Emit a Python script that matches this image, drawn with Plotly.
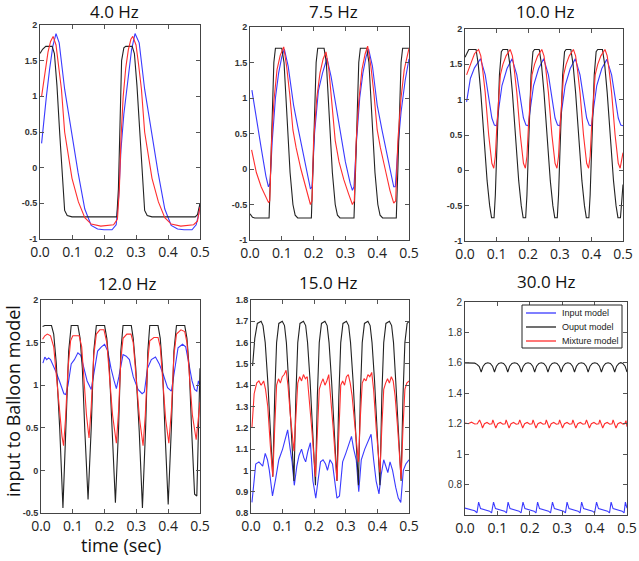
import plotly.graph_objects as go

W, H = 639, 561

# ---------------- 4.0 Hz ----------------
t_in_4 = [0.005, 0.01, 0.02, 0.03, 0.04, 0.05, 0.06, 0.077, 0.098, 0.119, 0.14, 0.16, 0.18, 0.2, 0.225, 0.238,
          0.246, 0.253, 0.262, 0.274, 0.286, 0.297, 0.31, 0.327, 0.348, 0.369, 0.39, 0.41, 0.43, 0.45, 0.475,
          0.488, 0.496, 0.5]
in_4 = [0.34, 0.6, 1.0, 1.38, 1.7, 1.88, 1.75, 1.1, 0.5, -0.07, -0.58, -0.81, -0.86, -0.87, -0.87, -0.8,
        -0.4, 0.25, 0.75, 1.2, 1.65, 1.88, 1.75, 1.1, 0.5, -0.07, -0.58, -0.81, -0.86, -0.87, -0.87,
        -0.8, -0.65, -0.5]
t_out_4 = [0.0, 0.008, 0.018, 0.038, 0.045, 0.053, 0.062, 0.07, 0.077, 0.085, 0.1, 0.24, 0.245, 0.25, 0.255,
           0.262, 0.268, 0.288, 0.295, 0.303, 0.312, 0.32, 0.327, 0.335, 0.35, 0.485, 0.492, 0.5]
out_4 = [1.6, 1.66, 1.7, 1.7, 1.6, 1.15, 0.45, -0.15, -0.6, -0.67, -0.69, -0.69, -0.3, 0.6, 1.5,
         1.68, 1.7, 1.7, 1.6, 1.15, 0.45, -0.15, -0.6, -0.67, -0.69, -0.69, -0.66, -0.5]
t_mix_4 = [0.005, 0.015, 0.025, 0.033, 0.041, 0.05, 0.058, 0.067, 0.077, 0.088, 0.1, 0.12, 0.14, 0.16, 0.19,
           0.23, 0.242, 0.248, 0.253, 0.26, 0.268, 0.276, 0.284, 0.29, 0.3, 0.308, 0.317, 0.327, 0.338, 0.35,
           0.37, 0.39, 0.41, 0.44, 0.48, 0.492, 0.5]
mix_4 = [1.0, 1.35, 1.62, 1.77, 1.84, 1.72, 1.45, 1.1, 0.5, 0.17, -0.15, -0.48, -0.7, -0.79, -0.82,
         -0.8, -0.72, -0.3, 0.4, 1.0, 1.4, 1.65, 1.8, 1.84, 1.72, 1.45, 1.1, 0.5, 0.17, -0.15,
         -0.48, -0.7, -0.79, -0.82, -0.8, -0.75, -0.55]

# ---------------- 7.5 Hz ----------------
t_in_75 = [0.006, 0.02, 0.035, 0.05, 0.058, 0.063, 0.07, 0.08, 0.09, 0.1, 0.108, 0.12, 0.137, 0.15, 0.164,
           0.18, 0.19, 0.195, 0.203, 0.215, 0.228, 0.242, 0.255, 0.27, 0.285, 0.3, 0.315, 0.322, 0.327,
           0.335, 0.345, 0.355, 0.365, 0.373, 0.385, 0.4, 0.415, 0.43, 0.445, 0.452, 0.457, 0.465, 0.475,
           0.488, 0.5]
in_75 = [1.11, 0.7, 0.3, -0.1, -0.25, -0.2, 0.4, 1.0, 1.35, 1.58, 1.69, 1.45, 0.9, 0.6, 0.29,
         -0.1, -0.28, -0.25, 0.5, 1.1, 1.35, 1.56, 1.3, 0.9, 0.5, 0.1, -0.2, -0.3, -0.25,
         0.4, 1.0, 1.35, 1.58, 1.69, 1.45, 0.9, 0.55, 0.2, -0.1, -0.25, -0.25, 0.3, 0.8,
         1.25, 1.55]
t_out_75 = [0.0, 0.008, 0.015,
            0.06, 0.065, 0.07, 0.075, 0.08, 0.1, 0.107, 0.116, 0.126, 0.135, 0.142, 0.15,
            0.193, 0.198, 0.203, 0.208, 0.213, 0.233, 0.24, 0.249, 0.259, 0.268, 0.275, 0.283,
            0.327, 0.332, 0.337, 0.342, 0.347, 0.367, 0.374, 0.383, 0.393, 0.402, 0.409, 0.417,
            0.46, 0.465, 0.47, 0.475, 0.48, 0.5]
out_75 = [-0.63, -0.68, -0.69,
          -0.69, 0.0, 0.95, 1.5, 1.7, 1.7, 1.5, 0.8, -0.05, -0.5, -0.65, -0.69,
          -0.69, 0.0, 0.95, 1.5, 1.7, 1.7, 1.5, 0.8, -0.05, -0.5, -0.65, -0.69,
          -0.69, 0.0, 0.95, 1.5, 1.7, 1.7, 1.5, 0.8, -0.05, -0.5, -0.65, -0.69,
          -0.69, 0.0, 0.95, 1.5, 1.7, 1.7]
t_mix_75 = [0.005, 0.02, 0.035, 0.05, 0.058, 0.062, 0.068, 0.075, 0.085, 0.095, 0.106, 0.115, 0.125, 0.135,
            0.145, 0.16, 0.175, 0.19, 0.195, 0.2, 0.21, 0.22, 0.23, 0.239, 0.248, 0.258, 0.268, 0.28, 0.295,
            0.31, 0.322, 0.328, 0.334, 0.342, 0.352, 0.362, 0.37, 0.38, 0.39, 0.4, 0.41, 0.425, 0.44, 0.452,
            0.458, 0.465, 0.475, 0.485, 0.495, 0.5]
mix_75 = [0.27, -0.05, -0.25, -0.4, -0.47, -0.45, 0.4, 0.95, 1.4, 1.6, 1.72, 1.45, 1.05, 0.55,
          0.3, 0.0, -0.25, -0.5, -0.45, 0.4, 1.0, 1.35, 1.55, 1.65, 1.4, 0.9, 0.4, 0.1, -0.15,
          -0.35, -0.5, -0.45, 0.4, 0.95, 1.4, 1.62, 1.73, 1.45, 1.05, 0.55, 0.3, 0.0, -0.3, -0.48,
          -0.45, 0.4, 1.0, 1.4, 1.62, 1.7]

# ---------------- 10.0 Hz ----------------
t_in_10 = [0.005, 0.017, 0.03, 0.049, 0.064, 0.075, 0.085, 0.093, 0.1,
           0.107, 0.117, 0.133, 0.149, 0.164, 0.175, 0.185, 0.193, 0.2,
           0.207, 0.217, 0.233, 0.249, 0.264, 0.275, 0.285, 0.293, 0.3,
           0.307, 0.317, 0.333, 0.349, 0.364, 0.375, 0.385, 0.393, 0.4,
           0.407, 0.417, 0.433, 0.449, 0.464, 0.475, 0.485, 0.493, 0.5]
in_10 = [0.97, 1.3, 1.45, 1.58, 1.35, 1.02, 0.74, 0.64, 0.63,
         0.88, 1.2, 1.44, 1.58, 1.35, 1.02, 0.74, 0.64, 0.63,
         0.88, 1.2, 1.44, 1.58, 1.35, 1.02, 0.74, 0.64, 0.63,
         0.88, 1.2, 1.44, 1.58, 1.35, 1.02, 0.74, 0.64, 0.63,
         0.88, 1.2, 1.44, 1.57, 1.35, 1.02, 0.74, 0.64, 0.63]
t_out_10 = [0.0, 0.006, 0.012, 0.035, 0.042, 0.05, 0.06, 0.07, 0.078, 0.084, 0.092, 0.096,
            0.1, 0.104, 0.109, 0.115, 0.12, 0.135, 0.142, 0.15, 0.16, 0.17, 0.178, 0.184, 0.192, 0.196,
            0.2, 0.204, 0.209, 0.215, 0.22, 0.235, 0.242, 0.25, 0.26, 0.27, 0.278, 0.284, 0.292, 0.296,
            0.3, 0.304, 0.309, 0.315, 0.32, 0.335, 0.342, 0.35, 0.36, 0.37, 0.378, 0.384, 0.392, 0.396,
            0.4, 0.404, 0.409, 0.415, 0.42, 0.435, 0.442, 0.45, 0.46, 0.47, 0.478, 0.484, 0.492, 0.5]
out_10 = [1.6, 1.66, 1.71, 1.71, 1.5, 1.1, 0.4, -0.15, -0.5, -0.67, -0.67, -0.35,
          0.2, 0.8, 1.35, 1.68, 1.71, 1.71, 1.5, 1.1, 0.4, -0.15, -0.5, -0.67, -0.67, -0.35,
          0.2, 0.8, 1.35, 1.68, 1.71, 1.71, 1.5, 1.1, 0.4, -0.15, -0.5, -0.67, -0.67, -0.35,
          0.2, 0.8, 1.35, 1.68, 1.71, 1.71, 1.5, 1.1, 0.4, -0.15, -0.5, -0.67, -0.67, -0.35,
          0.2, 0.8, 1.35, 1.68, 1.71, 1.71, 1.5, 1.1, 0.4, -0.15, -0.5, -0.67, -0.67, -0.2]
t_mix_10 = [0.005, 0.02, 0.03, 0.043, 0.05, 0.056, 0.064, 0.075, 0.085, 0.091, 0.096,
            0.101, 0.112, 0.12, 0.13, 0.143, 0.15, 0.156, 0.164, 0.175, 0.185, 0.191, 0.196,
            0.201, 0.212, 0.22, 0.23, 0.243, 0.25, 0.256, 0.264, 0.275, 0.285, 0.291, 0.296,
            0.301, 0.312, 0.32, 0.33, 0.343, 0.35, 0.356, 0.364, 0.375, 0.385, 0.391, 0.396,
            0.401, 0.412, 0.42, 0.43, 0.443, 0.45, 0.456, 0.464, 0.475, 0.485, 0.491, 0.496, 0.5]
mix_10 = [1.35, 1.55, 1.65, 1.71, 1.62, 1.42, 1.1, 0.5, 0.1, 0.03, 0.2,
          0.64, 1.35, 1.5, 1.62, 1.71, 1.62, 1.42, 1.1, 0.5, 0.1, 0.03, 0.2,
          0.64, 1.35, 1.5, 1.62, 1.71, 1.62, 1.42, 1.1, 0.5, 0.1, 0.03, 0.2,
          0.64, 1.35, 1.5, 1.62, 1.71, 1.62, 1.42, 1.1, 0.5, 0.1, 0.03, 0.2,
          0.64, 1.35, 1.5, 1.62, 1.71, 1.62, 1.42, 1.1, 0.5, 0.1, 0.03, 0.15, 0.25]

# ---------------- 12.0 Hz ----------------
t_in_12 = [0.006, 0.012, 0.018, 0.024, 0.03, 0.04, 0.048, 0.058, 0.066, 0.072, 0.078, 0.085, 0.095, 0.105,
           0.116, 0.125, 0.135, 0.145, 0.158, 0.167, 0.178, 0.19, 0.2, 0.21, 0.22, 0.23, 0.237, 0.245,
           0.258, 0.268, 0.278, 0.29, 0.305, 0.318, 0.325, 0.335, 0.347, 0.36, 0.372, 0.385, 0.398, 0.41,
           0.42, 0.431, 0.445, 0.455, 0.465, 0.475, 0.483, 0.49, 0.495, 0.5]
in_12 = [1.26, 1.33, 1.3, 1.32, 1.3, 1.22, 1.15, 1.05, 0.95, 0.9, 0.89, 1.0, 1.25, 1.3,
         1.38, 1.35, 1.2, 1.05, 0.95, 1.15, 1.4, 1.45, 1.48, 1.4, 1.2, 1.05, 0.96, 1.1,
         1.36, 1.34, 1.3, 1.1, 0.95, 0.9, 0.92, 1.2, 1.3, 1.33, 1.25, 1.12, 0.97, 0.93,
         1.2, 1.44, 1.48, 1.45, 1.25, 1.05, 0.95, 0.93, 1.05, 1.0]
t_out_12 = [0.005, 0.012, 0.033, 0.04, 0.048, 0.059, 0.069, 0.079, 0.087, 0.095, 0.116,
            0.123, 0.13, 0.138, 0.148, 0.158, 0.166, 0.174, 0.2,
            0.207, 0.215, 0.224, 0.234, 0.244, 0.251, 0.258, 0.284,
            0.29, 0.298, 0.309, 0.319, 0.329, 0.336, 0.342, 0.368,
            0.375, 0.382, 0.39, 0.4, 0.41, 0.418, 0.426, 0.452,
            0.459, 0.466, 0.474, 0.48, 0.483, 0.49, 0.495, 0.5]
out_12 = [1.69, 1.7, 1.7, 1.6, 1.26, 0.48, -0.44, 0.5, 1.4, 1.7, 1.7,
          1.55, 1.2, 0.45, -0.34, 0.5, 1.4, 1.7, 1.7,
          1.55, 1.2, 0.45, -0.38, 0.5, 1.4, 1.7, 1.7,
          1.55, 1.2, 0.45, -0.44, 0.5, 1.4, 1.7, 1.7,
          1.55, 1.2, 0.45, -0.4, 0.5, 1.4, 1.7, 1.7,
          1.55, 1.2, 0.45, -0.2, -0.28, -0.3, 0.4, 1.2]
t_mix_12 = [0.005, 0.012, 0.02, 0.03, 0.04, 0.05, 0.06, 0.066, 0.071, 0.077, 0.085, 0.093, 0.1, 0.12,
            0.128, 0.135, 0.143, 0.151, 0.158, 0.166, 0.174, 0.185, 0.198, 0.207, 0.215, 0.225, 0.237,
            0.244, 0.251, 0.258, 0.27, 0.283, 0.29, 0.298, 0.31, 0.321, 0.328, 0.336, 0.342, 0.355,
            0.368, 0.375, 0.382, 0.392, 0.402, 0.41, 0.418, 0.426, 0.44, 0.452, 0.459, 0.466, 0.476,
            0.488, 0.495, 0.5]
mix_12 = [1.54, 1.58, 1.6, 1.58, 1.45, 1.05, 0.6, 0.4, 0.29, 0.6, 1.2, 1.52, 1.58, 1.58,
          1.45, 1.1, 0.65, 0.38, 0.75, 1.35, 1.6, 1.65, 1.65, 1.5, 1.1, 0.65, 0.32,
          0.7, 1.3, 1.55, 1.6, 1.6, 1.5, 1.1, 0.6, 0.29, 0.65, 1.3, 1.52, 1.56,
          1.56, 1.45, 1.1, 0.6, 0.32, 0.7, 1.35, 1.6, 1.65, 1.63, 1.5, 1.15, 0.65,
          0.36, 0.6, 0.8]

# ---------------- 15.0 Hz ----------------
t_in_15 = [0.003, 0.01, 0.015, 0.025, 0.03, 0.037, 0.045, 0.052, 0.058, 0.068, 0.078, 0.088, 0.1, 0.11,
           0.116, 0.124, 0.13, 0.137, 0.145, 0.152, 0.16, 0.167, 0.173, 0.18, 0.188, 0.196, 0.205, 0.212,
           0.22, 0.228, 0.236, 0.242, 0.25, 0.258, 0.265, 0.272, 0.28, 0.29, 0.3, 0.31, 0.318, 0.325,
           0.333, 0.341, 0.349, 0.36, 0.37, 0.38, 0.388, 0.396, 0.405, 0.412, 0.42, 0.427, 0.433, 0.44,
           0.448, 0.458, 0.466, 0.474, 0.482, 0.49, 0.5]
in_15 = [0.85, 0.98, 1.03, 1.04, 1.03, 1.02, 1.08, 1.05, 1.0, 0.88, 0.96, 1.05, 1.1, 1.15,
         1.19, 1.1, 1.04, 0.93, 1.02, 1.07, 1.1, 1.06, 1.04, 1.09, 1.13, 0.95, 0.87, 0.95,
         1.04, 1.05, 1.03, 1.0, 1.05, 1.03, 0.95, 0.87, 0.88, 1.04, 1.08, 1.12, 1.16, 1.1,
         1.05, 0.9, 1.05, 1.1, 1.14, 1.17, 1.05, 0.95, 0.89, 0.98, 1.05, 1.02, 0.99, 1.04,
         1.0, 0.92, 0.87, 0.85, 1.0, 1.03, 1.05]
t_out_15 = [0.005, 0.012, 0.02, 0.032, 0.038, 0.045, 0.053, 0.061, 0.069,
            0.075, 0.081, 0.088, 0.099, 0.106, 0.112, 0.119, 0.127, 0.136,
            0.142, 0.148, 0.155, 0.166, 0.173, 0.179, 0.187, 0.195, 0.204,
            0.21, 0.216, 0.223, 0.234, 0.241, 0.247, 0.255, 0.263, 0.272,
            0.278, 0.284, 0.291, 0.302, 0.309, 0.315, 0.323, 0.331, 0.34,
            0.346, 0.352, 0.359, 0.37, 0.377, 0.383, 0.391, 0.399, 0.408,
            0.414, 0.42, 0.427, 0.438, 0.445, 0.451, 0.458, 0.466, 0.475,
            0.481, 0.487, 0.494, 0.5]
out_15 = [1.49, 1.62, 1.69, 1.7, 1.68, 1.6, 1.42, 1.19, 0.97,
          1.35, 1.6, 1.69, 1.7, 1.68, 1.6, 1.42, 1.2, 0.95,
          1.35, 1.6, 1.69, 1.7, 1.68, 1.6, 1.42, 1.2, 0.93,
          1.35, 1.6, 1.69, 1.7, 1.68, 1.6, 1.42, 1.2, 0.95,
          1.35, 1.6, 1.69, 1.7, 1.68, 1.6, 1.42, 1.2, 0.93,
          1.35, 1.6, 1.69, 1.7, 1.68, 1.6, 1.42, 1.2, 0.93,
          1.35, 1.6, 1.69, 1.7, 1.68, 1.6, 1.42, 1.2, 0.95,
          1.35, 1.6, 1.69, 1.7]
t_mix_15 = [0.003, 0.01, 0.018, 0.025, 0.032, 0.04, 0.046, 0.053, 0.061, 0.069,
            0.075, 0.081, 0.087, 0.093, 0.099, 0.105, 0.111, 0.117, 0.125, 0.136,
            0.142, 0.148, 0.154, 0.16, 0.166, 0.172, 0.178, 0.184, 0.192, 0.204,
            0.21, 0.216, 0.222, 0.228, 0.234, 0.24, 0.246, 0.252, 0.26, 0.272,
            0.278, 0.284, 0.29, 0.296, 0.302, 0.308, 0.314, 0.32, 0.328, 0.34,
            0.346, 0.352, 0.358, 0.364, 0.37, 0.376, 0.382, 0.388, 0.396, 0.408,
            0.414, 0.42, 0.426, 0.432, 0.438, 0.444, 0.45, 0.456, 0.464, 0.475,
            0.481, 0.487, 0.493, 0.5]
mix_15 = [1.2, 1.36, 1.41, 1.42, 1.4, 1.42, 1.38, 1.3, 1.12, 0.97,
          1.2, 1.4, 1.43, 1.41, 1.44, 1.45, 1.47, 1.4, 1.25, 1.09,
          1.25, 1.41, 1.44, 1.42, 1.45, 1.43, 1.44, 1.35, 1.2, 0.97,
          1.2, 1.38, 1.41, 1.43, 1.4, 1.42, 1.45, 1.35, 1.2, 0.95,
          1.2, 1.4, 1.42, 1.4, 1.44, 1.45, 1.41, 1.35, 1.22, 1.04,
          1.25, 1.41, 1.43, 1.42, 1.45, 1.44, 1.46, 1.38, 1.2, 0.99,
          1.2, 1.38, 1.41, 1.43, 1.41, 1.44, 1.42, 1.35, 1.2, 0.96,
          1.2, 1.38, 1.41, 1.42]

# ---------------- 30.0 Hz ----------------
t_in_30 = [0.0, 0.01, 0.02, 0.03, 0.037,
           0.042, 0.048, 0.056, 0.066, 0.076, 0.082,
           0.088, 0.094, 0.102, 0.112, 0.122, 0.128,
           0.133, 0.139, 0.147, 0.157, 0.167, 0.173,
           0.179, 0.185, 0.193, 0.203, 0.213, 0.219,
           0.224, 0.23, 0.238, 0.248, 0.258, 0.264,
           0.27, 0.276, 0.284, 0.294, 0.304, 0.31,
           0.315, 0.321, 0.329, 0.339, 0.349, 0.355,
           0.36, 0.366, 0.374, 0.384, 0.394, 0.4,
           0.406, 0.412, 0.42, 0.43, 0.44, 0.446,
           0.451, 0.457, 0.465, 0.475, 0.485, 0.491,
           0.495, 0.5]
in_30 = [0.645, 0.64, 0.637, 0.628, 0.615,
         0.685, 0.642, 0.638, 0.632, 0.625, 0.614,
         0.685, 0.642, 0.638, 0.632, 0.625, 0.614,
         0.685, 0.642, 0.638, 0.632, 0.625, 0.614,
         0.685, 0.642, 0.638, 0.632, 0.625, 0.614,
         0.685, 0.642, 0.638, 0.632, 0.625, 0.614,
         0.685, 0.642, 0.638, 0.632, 0.625, 0.614,
         0.685, 0.642, 0.638, 0.632, 0.625, 0.614,
         0.685, 0.642, 0.638, 0.632, 0.625, 0.614,
         0.685, 0.642, 0.638, 0.632, 0.625, 0.614,
         0.685, 0.642, 0.638, 0.632, 0.625, 0.614,
         0.685, 0.645]
t_out_30 = [0.0, 0.02, 0.03, 0.037, 0.044, 0.05,
            0.056, 0.063, 0.0705, 0.078, 0.085, 0.091,
            0.097, 0.104, 0.1115, 0.119, 0.126, 0.132,
            0.138, 0.145, 0.153, 0.161, 0.168, 0.174,
            0.18, 0.187, 0.1945, 0.202, 0.209, 0.215,
            0.221, 0.228, 0.2355, 0.243, 0.25, 0.256,
            0.262, 0.269, 0.2765, 0.284, 0.291, 0.297,
            0.303, 0.31, 0.3175, 0.325, 0.332, 0.338,
            0.344, 0.351, 0.359, 0.367, 0.374, 0.38,
            0.386, 0.393, 0.4005, 0.408, 0.415, 0.421,
            0.427, 0.434, 0.4415, 0.449, 0.456, 0.462,
            0.468, 0.475, 0.481, 0.487, 0.494, 0.5]
out_30 = [1.6, 1.601, 1.598, 1.59, 1.575, 1.54,
          1.578, 1.596, 1.601, 1.596, 1.578, 1.54,
          1.578, 1.596, 1.601, 1.596, 1.578, 1.54,
          1.578, 1.596, 1.601, 1.596, 1.578, 1.54,
          1.578, 1.596, 1.601, 1.596, 1.578, 1.54,
          1.578, 1.596, 1.601, 1.596, 1.578, 1.54,
          1.578, 1.596, 1.601, 1.596, 1.578, 1.54,
          1.578, 1.596, 1.601, 1.596, 1.578, 1.54,
          1.578, 1.596, 1.601, 1.596, 1.578, 1.54,
          1.578, 1.596, 1.601, 1.596, 1.578, 1.54,
          1.578, 1.596, 1.601, 1.596, 1.578, 1.54,
          1.578, 1.596, 1.601, 1.596, 1.578, 1.54]
t_mix_30 = [0.0, 0.01, 0.02, 0.03, 0.038,
            0.045, 0.05, 0.054, 0.06, 0.068, 0.076, 0.083,
            0.086, 0.091, 0.095, 0.101, 0.109, 0.117, 0.124,
            0.127, 0.132, 0.136, 0.142, 0.15, 0.158, 0.165,
            0.169, 0.174, 0.178, 0.184, 0.192, 0.2, 0.207,
            0.21, 0.215, 0.219, 0.225, 0.233, 0.241, 0.248,
            0.251, 0.256, 0.26, 0.266, 0.274, 0.282, 0.289,
            0.292, 0.297, 0.301, 0.307, 0.315, 0.323, 0.33,
            0.333, 0.338, 0.342, 0.348, 0.356, 0.364, 0.371,
            0.375, 0.38, 0.384, 0.39, 0.398, 0.406, 0.413,
            0.416, 0.421, 0.425, 0.431, 0.439, 0.447, 0.454,
            0.457, 0.462, 0.466, 0.472, 0.48, 0.488, 0.493,
            0.497, 0.5]
mix_30 = [1.205, 1.2, 1.21, 1.198, 1.2,
          1.225, 1.2, 1.172, 1.2, 1.208, 1.197, 1.2,
          1.225, 1.2, 1.172, 1.2, 1.208, 1.197, 1.2,
          1.225, 1.2, 1.172, 1.2, 1.208, 1.197, 1.2,
          1.225, 1.2, 1.172, 1.2, 1.208, 1.197, 1.2,
          1.225, 1.2, 1.172, 1.2, 1.208, 1.197, 1.2,
          1.225, 1.2, 1.172, 1.2, 1.208, 1.197, 1.2,
          1.225, 1.2, 1.172, 1.2, 1.208, 1.197, 1.2,
          1.225, 1.2, 1.172, 1.2, 1.208, 1.197, 1.2,
          1.225, 1.2, 1.172, 1.2, 1.208, 1.197, 1.2,
          1.225, 1.2, 1.172, 1.2, 1.208, 1.197, 1.2,
          1.225, 1.2, 1.172, 1.2, 1.208, 1.197, 1.2,
          1.22, 1.18]

titles = ["4.0 Hz", "7.5 Hz", "10.0 Hz", "12.0 Hz", "15.0 Hz", "30.0 Hz"]
series_names = ["Input model", "Ouput model", "Mixture model"]
x_ticks = [0.0, 0.1, 0.2, 0.3, 0.4, 0.5]
x_ticktext = ["0.0", "0.1", "0.2", "0.3", "0.4", "0.5"]
y_ticks_a = [-1, -0.5, 0, 0.5, 1, 1.5, 2]
y_ticktext_a = ["-1", "-0.5", "0", "0.5", "1", "1.5", "2"]
y_ticks_b = [-0.5, 0, 0.5, 1, 1.5, 2]
y_ticktext_b = ["-0.5", "0", "0.5", "1", "1.5", "2"]
y_ticks_c = [0.8, 0.9, 1.0, 1.1, 1.2, 1.3, 1.4, 1.5, 1.6, 1.7, 1.8]
y_ticktext_c = ["0.8", "0.9", "1", "1.1", "1.2", "1.3", "1.4", "1.5", "1.6", "1.7", "1.8"]
y_ticks_d = [0.8, 1.0, 1.2, 1.4, 1.6, 1.8, 2.0]
y_ticktext_d = ["0.8", "1", "1.2", "1.4", "1.6", "1.8", "2"]


def px(x):
    return x / W


def py(y):
    return 1 - y / H


panels = [
    dict(data=[(t_in_4, in_4), (t_out_4, out_4), (t_mix_4, mix_4)], yr=[-1, 2], yt=(y_ticks_a, y_ticktext_a),
         box=(40, 200, 25, 239), title_xy=(115, 11)),
    dict(data=[(t_in_75, in_75), (t_out_75, out_75), (t_mix_75, mix_75)], yr=[-1, 2], yt=(y_ticks_a, y_ticktext_a),
         box=(250, 409, 27, 240), title_xy=(333, 11)),
    dict(data=[(t_in_10, in_10), (t_out_10, out_10), (t_mix_10, mix_10)], yr=[-1, 2], yt=(y_ticks_a, y_ticktext_a),
         box=(465, 623, 29, 241), title_xy=(545, 12)),
    dict(data=[(t_in_12, in_12), (t_out_12, out_12), (t_mix_12, mix_12)], yr=[-0.5, 2], yt=(y_ticks_b, y_ticktext_b),
         box=(41, 200, 300, 513), title_xy=(127, 283)),
    dict(data=[(t_in_15, in_15), (t_out_15, out_15), (t_mix_15, mix_15)], yr=[0.8, 1.8], yt=(y_ticks_c, y_ticktext_c),
         box=(251, 409, 300, 513), title_xy=(328, 282)),
    dict(data=[(t_in_30, in_30), (t_out_30, out_30), (t_mix_30, mix_30)], yr=[0.6, 2.0], yt=(y_ticks_d, y_ticktext_d),
         box=(465, 627, 302, 515), title_xy=(546, 281)),
]

colors = ["#3a3aff", "#222222", "#ff2e2e"]
draw_order = [0, 1, 2]

fig = go.Figure()
layout = dict(template="none", width=W, height=H, margin=dict(l=0, r=0, t=0, b=0),
              paper_bgcolor="white", plot_bgcolor="white", annotations=[], shapes=[], showlegend=False)

for i, p in enumerate(panels):
    k = "" if i == 0 else str(i + 1)
    l, r, t, b = p["box"]
    for j in draw_order:
        xs, ys = p["data"][j]
        fig.add_trace(go.Scatter(x=xs, y=ys, mode="lines", name=series_names[j],
                                 line=dict(color=colors[j], width=1.1),
                                 xaxis="x" + k, yaxis="y" + k, showlegend=False))
    small = i == 5
    layout["xaxis" + k] = dict(domain=[px(l), px(r)], anchor="y" + k, range=[0, 0.5], automargin=False,
                               tickvals=x_ticks, ticktext=x_ticktext, ticks="inside", ticklen=4,
                               tickcolor="#555", showline=True, linecolor="#444", linewidth=1,
                               mirror="ticks", showgrid=False, zeroline=False, ticklabelstandoff=0,
                               tickfont=dict(family="Open Sans", size=14, color="#222"))
    layout["yaxis" + k] = dict(domain=[py(b), py(t)], anchor="x" + k, range=p["yr"], automargin=False,
                               tickvals=p["yt"][0], ticktext=p["yt"][1], ticks="inside", ticklen=4,
                               tickcolor="#555", showline=True, linecolor="#444", linewidth=1,
                               mirror="ticks", showgrid=False, zeroline=False,
                               tickfont=dict(family="Liberation Sans", size=10 if small else 9,
                                             color="#333", weight="normal" if small else "bold"))
    layout["annotations"].append(dict(text=titles[i], x=px(p["title_xy"][0]), y=py(p["title_xy"][1]),
                                      xref="paper", yref="paper", showarrow=False,
                                      xanchor="center", yanchor="middle",
                                      font=dict(family="Open Sans", size=17, color="#111")))

layout["annotations"].append(dict(text="input to Balloon model", x=px(13), y=py(401), xref="paper",
                                  yref="paper", showarrow=False, textangle=-90, xanchor="center",
                                  yanchor="middle", font=dict(family="Open Sans", size=18, color="#111")))
layout["annotations"].append(dict(text="time (sec)", x=px(121), y=py(545), xref="paper", yref="paper",
                                  showarrow=False, xanchor="center", yanchor="middle",
                                  font=dict(family="Open Sans", size=18, color="#111")))

# legend box drawn in panel 6
leg_box = (522, 622, 305, 348)
leg_rows = [313, 327, 341]
layout["shapes"].append(dict(type="rect", xref="paper", yref="paper",
                             x0=px(leg_box[0]), x1=px(leg_box[1]), y0=py(leg_box[3]), y1=py(leg_box[2]),
                             line=dict(color="#222", width=1), fillcolor="white", layer="above"))
for j, name in enumerate(series_names):
    yy = py(leg_rows[j])
    layout["shapes"].append(dict(type="line", xref="paper", yref="paper", x0=px(526), x1=px(556),
                                 y0=yy, y1=yy, line=dict(color=colors[j], width=1.3), layer="above"))
    layout["annotations"].append(dict(text=name, x=px(560), y=yy, xref="paper", yref="paper",
                                      showarrow=False, xanchor="left", yanchor="middle",
                                      font=dict(family="Liberation Sans", size=9, color="#222")))

fig.update_layout(**layout)
fig.write_html("out.html", config={"displayModeBar": False},
               post_script="document.body.style.margin='0';document.body.style.overflow='hidden';")
